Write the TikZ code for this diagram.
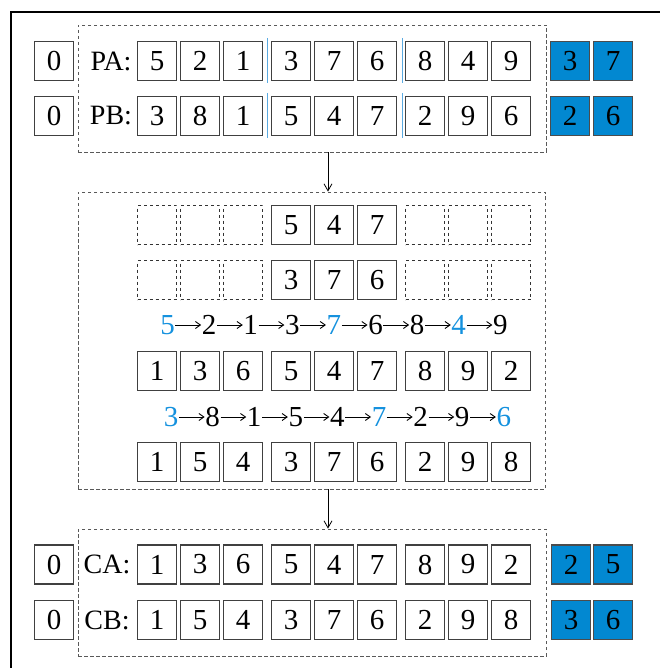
\documentclass[tikz,border=0pt]{standalone}
\usepackage{fontspec}
\setmainfont{Liberation Serif}
\usetikzlibrary{arrows.meta}
\definecolor{cellblue}{RGB}{2,136,209}
\definecolor{txtblue}{RGB}{20,145,222}
\definecolor{seplin}{RGB}{90,170,225}
\begin{document}
\begin{tikzpicture}[x=1pt,y=-1pt,
  cell/.style={draw=black!75,line width=1.1pt,minimum width=39pt,minimum height=39pt,inner sep=0pt,font=\fontsize{29}{32}\selectfont},
  ecell/.style={draw=black!80,dashed,line width=0.7pt,minimum width=39pt,minimum height=39pt,inner sep=0pt},
  bcell/.style={cell,fill=cellblue,draw=black!70},
  lab/.style={inner sep=0pt,font=\fontsize{28}{32}\selectfont},
  dig/.style={inner sep=0pt,font=\fontsize{29}{32}\selectfont},
  bdig/.style={dig,text=txtblue},
  carr/.style={draw=black,line width=0.9pt,shorten <=0.5pt,shorten >=0.5pt,-{Straight Barb[length=5pt,width=7pt]}},
  grp/.style={draw=black!65,dashed,line width=0.8pt,dash pattern=on 3.5pt off 2.5pt,inner sep=0pt},
  sep/.style={draw=seplin,line width=0.9pt},
  arr/.style={draw=black,line width=0.8pt,-{Straight Barb[length=7pt,width=8pt]}},
  frame/.style={draw=black,line width=2pt}
]
\useasboundingbox (0,0) rectangle (659,668);
\draw[frame] (11,669) -- (11,12) -- (660,12);

% group boxes
\node[grp,minimum width=468pt,minimum height=127pt] (top) at (312,88.5) {};
\node[grp,minimum width=467pt,minimum height=297pt] (mid) at (311.5,340.5) {};
\node[grp,minimum width=468pt,minimum height=127pt] (bot) at (312,592.5) {};
\coordinate (ax) at (328,0);
\draw[arr] (top.south -| ax) -- (mid.north -| ax);
\draw[arr] (mid.south -| ax) -- (bot.north -| ax);

% top rows
\node[cell] (z1) at (54,61) {0};
\node[cell] (z2) at (54,116) {0};
\node[lab] (pa) at (111,61) {PA:};
\node[lab] (pb) at (111,116) {PB:};
\foreach \v [count=\i] in {5,2,1,3,7,6,8,4,9}{
  \pgfmathsetmacro{\xx}{137+floor((\i-1)/3)*134+mod(\i-1,3)*43+20}
  \node[cell] (pa\i) at (\xx,61) {\v};}
\foreach \v [count=\i] in {3,8,1,5,4,7,2,9,6}{
  \pgfmathsetmacro{\xx}{137+floor((\i-1)/3)*134+mod(\i-1,3)*43+20}
  \node[cell] (pb\i) at (\xx,116) {\v};}
\draw[sep] (267,38) -- (267,83);
\draw[sep] (267,93) -- (267,138);
\draw[sep] (402,38) -- (402,83);
\draw[sep] (402,93) -- (402,138);
\node[bcell] (pc1) at (570,61) {3};
\node[bcell] (pc2) at (613,61) {7};
\node[bcell] (pd1) at (570,116) {2};
\node[bcell] (pd2) at (613,116) {6};

% middle
\foreach \i in {1,2,3,7,8,9}{
  \pgfmathsetmacro{\xx}{137+floor((\i-1)/3)*134+mod(\i-1,3)*43+20}
  \node[ecell] (ea\i) at (\xx,225) {};
  \node[ecell] (eb\i) at (\xx,280) {};}
\node[cell] (ma4) at (291,225) {5};
\node[cell] (ma5) at (334,225) {4};
\node[cell] (ma6) at (377,225) {7};
\node[cell] (mb4) at (291,280) {3};
\node[cell] (mb5) at (334,280) {7};
\node[cell] (mb6) at (377,280) {6};

% chain 1
\foreach \v/\s [count=\i] in {5/bdig,2/dig,1/dig,3/dig,7/bdig,6/dig,8/dig,4/bdig,9/dig}{
  \node[\s] (k\i) at (167.5+41.6*\i-41.6,325) {\v};}
\foreach \i [evaluate=\i as \j using int(\i+1)] in {1,...,8}{
  \draw[carr] (k\i.east) -- (k\j.west);}
\foreach \v [count=\i] in {1,3,6,5,4,7,8,9,2}{
  \pgfmathsetmacro{\xx}{137+floor((\i-1)/3)*134+mod(\i-1,3)*43+20}
  \node[cell] (mc\i) at (\xx,371) {\v};}
% chain 2
\foreach \v/\s [count=\i] in {3/bdig,8/dig,1/dig,5/dig,4/dig,7/bdig,2/dig,9/dig,6/bdig}{
  \node[\s] (m\i) at (171+41.6*\i-41.6,417) {\v};}
\foreach \i [evaluate=\i as \j using int(\i+1)] in {1,...,8}{
  \draw[carr] (m\i.east) -- (m\j.west);}
\foreach \v [count=\i] in {1,5,4,3,7,6,2,9,8}{
  \pgfmathsetmacro{\xx}{137+floor((\i-1)/3)*134+mod(\i-1,3)*43+20}
  \node[cell] (md\i) at (\xx,462) {\v};}

% bottom rows
\node[cell] (z3) at (54,564.5) {0};
\node[cell] (z4) at (54,620) {0};
\node[lab] (ca) at (107,564.5) {CA:};
\node[lab] (cb) at (107,620) {CB:};
\foreach \v [count=\i] in {1,3,6,5,4,7,8,9,2}{
  \pgfmathsetmacro{\xx}{137+floor((\i-1)/3)*134+mod(\i-1,3)*43+20}
  \node[cell] (ca\i) at (\xx,564.5) {\v};}
\foreach \v [count=\i] in {1,5,4,3,7,6,2,9,8}{
  \pgfmathsetmacro{\xx}{137+floor((\i-1)/3)*134+mod(\i-1,3)*43+20}
  \node[cell] (cb\i) at (\xx,620) {\v};}
\node[bcell] (cc1) at (571,564.5) {2};
\node[bcell] (cc2) at (613,564.5) {5};
\node[bcell] (cd1) at (571,620) {3};
\node[bcell] (cd2) at (613,620) {6};
\end{tikzpicture}
\end{document}
